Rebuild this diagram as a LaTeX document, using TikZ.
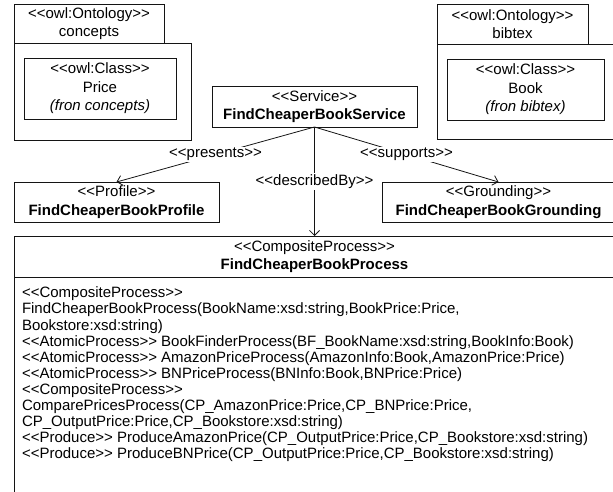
\documentclass[tikz,border=0pt]{standalone}
\usepackage{fontspec}
\setmainfont{Liberation Sans}
\usetikzlibrary{arrows.meta}
% stereotype brackets, kept apart so they are not merged into guillemets
\newcommand{\stereo}[1]{<{}<#1>{}>}
\definecolor{linec}{RGB}{20,20,20}
\begin{document}
\begin{tikzpicture}[x=1pt,y=-1pt,
  every node/.style={font=\fontsize{15}{18.5}\selectfont, inner sep=0pt, outer sep=0pt},
  umlbox/.style={draw=linec, line width=0.9pt, fill=white, align=center, anchor=north west},
  rel/.style={draw=linec, line width=0.8pt, -{Straight Barb[length=5pt,width=10pt,line width=0.8pt]}},
  rellabel/.style={fill=white, inner sep=1.5pt},
  listtext/.style={font=\fontsize{15}{16.1}\selectfont, align=left, anchor=north west},
]
\useasboundingbox (0,0) rectangle (613,492);
\clip (0,0) rectangle (613,492);

% package "concepts"
\node[umlbox, minimum width=150, minimum height=39] (ctab) at (14,4) {\stereo{owl:Ontology}\\concepts};
\node[umlbox, minimum width=177, minimum height=97] (cbody) at (14,43) {};
\node[umlbox, minimum width=152, minimum height=61] (price) at (24,58)
  {\stereo{owl:Class}\\Price\\\textit{(fron concepts)}};

% package "bibtex"
\node[umlbox, minimum width=151, minimum height=40] (btab) at (437,4) {\stereo{owl:Ontology}\\bibtex};
\node[umlbox, minimum width=185, minimum height=95] (bbody) at (437,44) {};
\node[umlbox, minimum width=157, minimum height=61] (book) at (447,59)
  {\stereo{owl:Class}\\Book\\\textit{(fron bibtex)}};

% service and its parts
\node[umlbox, minimum width=205, minimum height=41] (service) at (212,86)
  {\stereo{Service}\\\textbf{FindCheaperBookService}};
\node[umlbox, minimum width=205, minimum height=40] (profile) at (14,182)
  {\stereo{Profile}\\\textbf{FindCheaperBookProfile}};
\node[umlbox, minimum width=233, minimum height=40] (grounding) at (382,182)
  {\stereo{Grounding}\\\textbf{FindCheaperBookGrounding}};

% composite process class
\node[umlbox, minimum width=601, minimum height=41] (header) at (14,236)
  {\stereo{CompositeProcess}\\\textbf{FindCheaperBookProcess}};
\node[umlbox, minimum width=601, minimum height=230] (body) at (14,277) {};
\node[listtext] (ops) at (22,287) {%
\stereo{CompositeProcess}\\
FindCheaperBookProcess(BookName:xsd:string,BookPrice:Price,\\
Bookstore:xsd:string)\\
\stereo{AtomicProcess} BookFinderProcess(BF\_BookName:xsd:string,BookInfo:Book)\\
\stereo{AtomicProcess} AmazonPriceProcess(AmazonInfo:Book,AmazonPrice:Price)\\
\stereo{AtomicProcess} BNPriceProcess(BNInfo:Book,BNPrice:Price)\\
\stereo{CompositeProcess}\\
ComparePricesProcess(CP\_AmazonPrice:Price,CP\_BNPrice:Price,\\
CP\_OutputPrice:Price,CP\_Bookstore:xsd:string)\\
\stereo{Produce} ProduceAmazonPrice(CP\_OutputPrice:Price,CP\_Bookstore:xsd:string)\\
\stereo{Produce} ProduceBNPrice(CP\_OutputPrice:Price,CP\_Bookstore:xsd:string)};

% relations
\draw[rel] (service.south) -- node[rellabel] {\stereo{presents}} (profile.north);
\draw[rel] (service.south) -- node[rellabel] {\stereo{describedBy}} (header.north);
\draw[rel] (service.south) -- node[rellabel] {\stereo{supports}} (grounding.north);
\end{tikzpicture}
\end{document}
